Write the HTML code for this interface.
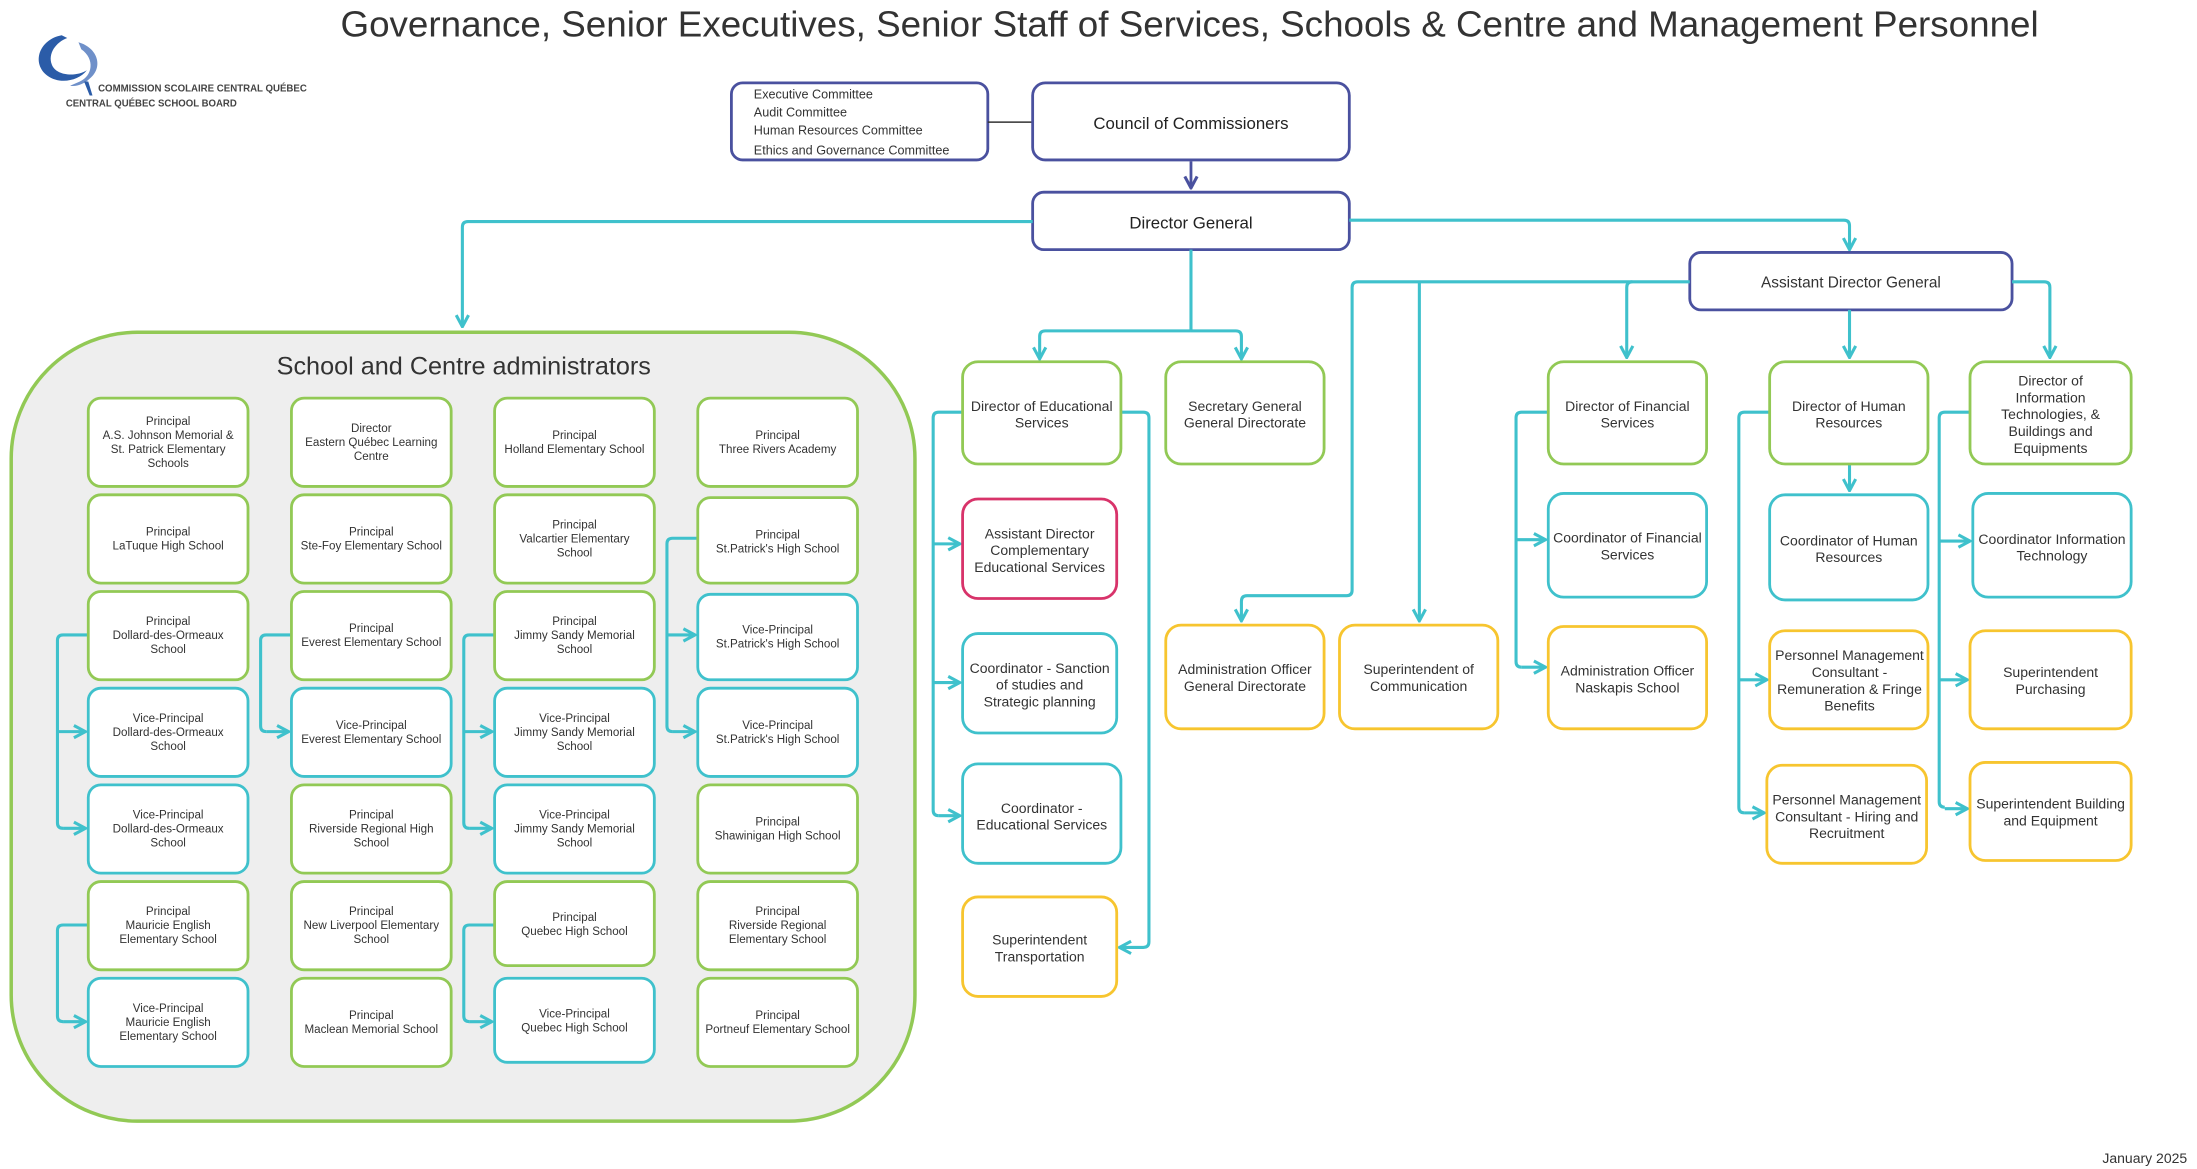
<!DOCTYPE html>
<html><head><meta charset="utf-8"><style>
html,body{margin:0;padding:0;background:#fff;}
svg{display:block;}
text{font-family:"Liberation Sans",sans-serif;fill:#333;}
.s{font-size:8.3px;text-anchor:middle;}
.m{font-size:10px;text-anchor:middle;}
.g{fill:#fff;stroke:#92c955;stroke-width:2;}
.c{fill:#fff;stroke:#3fc1cc;stroke-width:2;}
.y{fill:#fff;stroke:#f7c52f;stroke-width:2;}
.r{fill:#fff;stroke:#d8336a;stroke-width:2;}
.n{fill:#fff;stroke:#4a519f;stroke-width:2;}
.l{fill:none;stroke:#3fc1cc;stroke-width:2.2;stroke-linejoin:round;marker-end:url(#a);}
.l0{fill:none;stroke:#3fc1cc;stroke-width:2.2;stroke-linejoin:round;}
</style></head><body>
<svg width="2197" height="1169" viewBox="0 0 1568 834" xmlns="http://www.w3.org/2000/svg">
<defs>
<marker id="a" markerUnits="userSpaceOnUse" viewBox="0 0 10 10" refX="9" refY="5" markerWidth="11" markerHeight="11" orient="auto"><path d="M1.5,1 L9,5 L1.5,9" fill="none" stroke="#3fc1cc" stroke-width="2"/></marker>
<marker id="b" markerUnits="userSpaceOnUse" viewBox="0 0 10 10" refX="9" refY="5" markerWidth="11" markerHeight="11" orient="auto"><path d="M1.5,1 L9,5 L1.5,9" fill="none" stroke="#4a519f" stroke-width="2"/></marker>
</defs>

<!-- Title -->
<text x="243" y="26" style="font-size:26px;fill:#333" textLength="1212" lengthAdjust="spacingAndGlyphs">Governance, Senior Executives, Senior Staff of Services, Schools &amp; Centre and Management Personnel</text>
<!-- Logo -->
<path d="M44,25 C28,28 22,45 34,54 C42,60 56,58 62,50 C54,55 40,54 37,46 C34,38 40,30 48,27 Z" fill="#2b5ca8"/>
<path d="M56,30 C70,34 74,48 64,56 C60,60 54,62 50,61 L57,58 C66,54 68,42 58,35 Z" fill="#6f90c9"/>
<path d="M60,58 L64,68 L66,68 L63,58 Z" fill="#2b5ca8"/>
<text x="70" y="65" style="font-size:7px;font-weight:bold;fill:#444" textLength="149" lengthAdjust="spacingAndGlyphs">COMMISSION SCOLAIRE CENTRAL QUÉBEC</text>
<text x="47" y="76" style="font-size:7px;font-weight:bold;fill:#444" textLength="122" lengthAdjust="spacingAndGlyphs">CENTRAL QUÉBEC SCHOOL BOARD</text>

<!-- Top governance -->
<rect class="n" x="522" y="59" width="183" height="55" rx="8"/>
<text style="font-size:9px"><tspan x="538" y="70">Executive Committee</tspan><tspan x="538" y="83">Audit Committee</tspan><tspan x="538" y="96">Human Resources Committee</tspan><tspan x="538" y="110">Ethics and Governance Committee</tspan></text>
<line x1="705" y1="87" x2="737" y2="87" stroke="#333" stroke-width="1"/>
<rect class="n" x="737" y="59" width="226" height="55" rx="9"/>
<text class="m" x="850" y="92" style="font-size:12px;fill:#222">Council of Commissioners</text>
<path d="M850,115 V134" stroke="#4a519f" stroke-width="2" fill="none" marker-end="url(#b)"/>
<rect class="n" x="737" y="137" width="226" height="41" rx="8"/>
<text class="m" x="850" y="163" style="font-size:12px;fill:#222">Director General</text>

<!-- DG connectors -->
<path class="l" d="M737,158 H334 Q330,158 330,162 V233"/>
<path class="l" d="M963,157 H1316 Q1320,157 1320,161 V178"/>
<path class="l0" d="M850,178 V236"/>
<path class="l" d="M850,236 H746 Q742,236 742,240 V256"/>
<path class="l" d="M850,236 H882 Q886,236 886,240 V256"/>

<!-- Group box -->
<rect x="8" y="237" width="645" height="563" rx="90" fill="#eeeeee" stroke="#92c955" stroke-width="2.5"/>
<text x="331" y="267" style="font-size:18px;text-anchor:middle;fill:#333">School and Centre administrators</text>

<!-- School connectors -->
<path class="l0" d="M63,453 H45 Q41,453 41,457 V587 Q41,591 45,591"/>
<path class="l" d="M41,522 H61"/><path class="l" d="M45,591 H61"/>
<path class="l0" d="M63,660 H45 Q41,660 41,664 V725 Q41,729 45,729"/>
<path class="l" d="M45,729 H61"/>
<path class="l0" d="M208,453 H190 Q186,453 186,457 V518 Q186,522 190,522"/>
<path class="l" d="M190,522 H206"/>
<path class="l0" d="M353,453 H335 Q331,453 331,457 V587 Q331,591 335,591"/>
<path class="l" d="M331,522 H351"/><path class="l" d="M335,591 H351"/>
<path class="l0" d="M353,660 H335 Q331,660 331,664 V725 Q331,729 335,729"/>
<path class="l" d="M335,729 H351"/>
<path class="l0" d="M498,384 H480 Q476,384 476,388 V518 Q476,522 480,522"/>
<path class="l" d="M476,453 H496"/><path class="l" d="M480,522 H496"/>

<!-- Schools col1 -->
<rect class="g" x="63" y="284" width="114" height="63" rx="9"/>
<text class="s"><tspan x="120" y="303">Principal</tspan><tspan x="120" y="313">A.S. Johnson Memorial &amp;</tspan><tspan x="120" y="323">St. Patrick Elementary</tspan><tspan x="120" y="333">Schools</tspan></text>
<rect class="g" x="63" y="353" width="114" height="63" rx="9"/>
<text class="s"><tspan x="120" y="382">Principal</tspan><tspan x="120" y="392">LaTuque High School</tspan></text>
<rect class="g" x="63" y="422" width="114" height="63" rx="9"/>
<text class="s"><tspan x="120" y="446">Principal</tspan><tspan x="120" y="456">Dollard-des-Ormeaux</tspan><tspan x="120" y="466">School</tspan></text>
<rect class="c" x="63" y="491" width="114" height="63" rx="9"/>
<text class="s"><tspan x="120" y="515">Vice-Principal</tspan><tspan x="120" y="525">Dollard-des-Ormeaux</tspan><tspan x="120" y="535">School</tspan></text>
<rect class="c" x="63" y="560" width="114" height="63" rx="9"/>
<text class="s"><tspan x="120" y="584">Vice-Principal</tspan><tspan x="120" y="594">Dollard-des-Ormeaux</tspan><tspan x="120" y="604">School</tspan></text>
<rect class="g" x="63" y="629" width="114" height="63" rx="9"/>
<text class="s"><tspan x="120" y="653">Principal</tspan><tspan x="120" y="663">Mauricie English</tspan><tspan x="120" y="673">Elementary School</tspan></text>
<rect class="c" x="63" y="698" width="114" height="63" rx="9"/>
<text class="s"><tspan x="120" y="722">Vice-Principal</tspan><tspan x="120" y="732">Mauricie English</tspan><tspan x="120" y="742">Elementary School</tspan></text>

<!-- col2 -->
<rect class="g" x="208" y="284" width="114" height="63" rx="9"/>
<text class="s"><tspan x="265" y="308">Director</tspan><tspan x="265" y="318">Eastern Québec Learning</tspan><tspan x="265" y="328">Centre</tspan></text>
<rect class="g" x="208" y="353" width="114" height="63" rx="9"/>
<text class="s"><tspan x="265" y="382">Principal</tspan><tspan x="265" y="392">Ste-Foy Elementary School</tspan></text>
<rect class="g" x="208" y="422" width="114" height="63" rx="9"/>
<text class="s"><tspan x="265" y="451">Principal</tspan><tspan x="265" y="461">Everest Elementary School</tspan></text>
<rect class="c" x="208" y="491" width="114" height="63" rx="9"/>
<text class="s"><tspan x="265" y="520">Vice-Principal</tspan><tspan x="265" y="530">Everest Elementary School</tspan></text>
<rect class="g" x="208" y="560" width="114" height="63" rx="9"/>
<text class="s"><tspan x="265" y="584">Principal</tspan><tspan x="265" y="594">Riverside Regional High</tspan><tspan x="265" y="604">School</tspan></text>
<rect class="g" x="208" y="629" width="114" height="63" rx="9"/>
<text class="s"><tspan x="265" y="653">Principal</tspan><tspan x="265" y="663">New Liverpool Elementary</tspan><tspan x="265" y="673">School</tspan></text>
<rect class="g" x="208" y="698" width="114" height="63" rx="9"/>
<text class="s"><tspan x="265" y="727">Principal</tspan><tspan x="265" y="737">Maclean Memorial School</tspan></text>

<!-- col3 -->
<rect class="g" x="353" y="284" width="114" height="63" rx="9"/>
<text class="s"><tspan x="410" y="313">Principal</tspan><tspan x="410" y="323">Holland Elementary School</tspan></text>
<rect class="g" x="353" y="353" width="114" height="63" rx="9"/>
<text class="s"><tspan x="410" y="377">Principal</tspan><tspan x="410" y="387">Valcartier Elementary</tspan><tspan x="410" y="397">School</tspan></text>
<rect class="g" x="353" y="422" width="114" height="63" rx="9"/>
<text class="s"><tspan x="410" y="446">Principal</tspan><tspan x="410" y="456">Jimmy Sandy Memorial</tspan><tspan x="410" y="466">School</tspan></text>
<rect class="c" x="353" y="491" width="114" height="63" rx="9"/>
<text class="s"><tspan x="410" y="515">Vice-Principal</tspan><tspan x="410" y="525">Jimmy Sandy Memorial</tspan><tspan x="410" y="535">School</tspan></text>
<rect class="c" x="353" y="560" width="114" height="63" rx="9"/>
<text class="s"><tspan x="410" y="584">Vice-Principal</tspan><tspan x="410" y="594">Jimmy Sandy Memorial</tspan><tspan x="410" y="604">School</tspan></text>
<rect class="g" x="353" y="629" width="114" height="60" rx="9"/>
<text class="s"><tspan x="410" y="657">Principal</tspan><tspan x="410" y="667">Quebec High School</tspan></text>
<rect class="c" x="353" y="698" width="114" height="60" rx="9"/>
<text class="s"><tspan x="410" y="726">Vice-Principal</tspan><tspan x="410" y="736">Quebec High School</tspan></text>

<!-- col4 -->
<rect class="g" x="498" y="284" width="114" height="63" rx="9"/>
<text class="s"><tspan x="555" y="313">Principal</tspan><tspan x="555" y="323">Three Rivers Academy</tspan></text>
<rect class="g" x="498" y="355" width="114" height="61" rx="9"/>
<text class="s"><tspan x="555" y="384">Principal</tspan><tspan x="555" y="394">St.Patrick's High School</tspan></text>
<rect class="c" x="498" y="424" width="114" height="61" rx="9"/>
<text class="s"><tspan x="555" y="452">Vice-Principal</tspan><tspan x="555" y="462">St.Patrick's High School</tspan></text>
<rect class="c" x="498" y="491" width="114" height="63" rx="9"/>
<text class="s"><tspan x="555" y="520">Vice-Principal</tspan><tspan x="555" y="530">St.Patrick's High School</tspan></text>
<rect class="g" x="498" y="560" width="114" height="63" rx="9"/>
<text class="s"><tspan x="555" y="589">Principal</tspan><tspan x="555" y="599">Shawinigan High School</tspan></text>
<rect class="g" x="498" y="629" width="114" height="63" rx="9"/>
<text class="s"><tspan x="555" y="653">Principal</tspan><tspan x="555" y="663">Riverside Regional</tspan><tspan x="555" y="673">Elementary School</tspan></text>
<rect class="g" x="498" y="698" width="114" height="63" rx="9"/>
<text class="s"><tspan x="555" y="727">Principal</tspan><tspan x="555" y="737">Portneuf Elementary School</tspan></text>

<!-- Educational services -->
<path class="l0" d="M687,294 H670 Q666,294 666,298 V578 Q666,582 670,582"/>
<path class="l" d="M666,388 H685"/><path class="l" d="M666,487 H685"/><path class="l" d="M670,582 H685"/>
<path class="l" d="M800,294 H816 Q820,294 820,298 V672 Q820,676 816,676 H799"/>
<rect class="g" x="687" y="258" width="113" height="73" rx="11"/>
<text class="m"><tspan x="743.5" y="293">Director of Educational</tspan><tspan x="743.5" y="305">Services</tspan></text>
<rect class="g" x="832" y="258" width="113" height="73" rx="11"/>
<text class="m"><tspan x="888.5" y="293">Secretary General</tspan><tspan x="888.5" y="305">General Directorate</tspan></text>
<rect class="r" x="687" y="356" width="110" height="71" rx="11"/>
<text class="m"><tspan x="742" y="384">Assistant Director</tspan><tspan x="742" y="396">Complementary</tspan><tspan x="742" y="408">Educational Services</tspan></text>
<rect class="c" x="687" y="452" width="110" height="71" rx="11"/>
<text class="m"><tspan x="742" y="480">Coordinator - Sanction</tspan><tspan x="742" y="492">of studies and</tspan><tspan x="742" y="504">Strategic planning</tspan></text>
<rect class="c" x="687" y="545" width="113" height="71" rx="11"/>
<text class="m"><tspan x="743.5" y="580">Coordinator -</tspan><tspan x="743.5" y="592">Educational Services</tspan></text>
<rect class="y" x="687" y="640" width="110" height="71" rx="11"/>
<text class="m"><tspan x="742" y="674">Superintendent</tspan><tspan x="742" y="686">Transportation</tspan></text>

<!-- ADG -->
<rect class="n" x="1206" y="180" width="230" height="41" rx="8"/>
<text class="m" x="1321" y="205" style="font-size:11px">Assistant Director General</text>
<path class="l" d="M1206,201 H969 Q965,201 965,205 V421 Q965,425 961,425 H890 Q886,425 886,429 V443"/>
<path class="l" d="M1013,201 Q1013,205 1013,209 V443"/>
<path class="l" d="M1165,201 Q1161,201 1161,205 V255"/>
<path class="l" d="M1320,221 V255"/>
<path class="l" d="M1436,201 H1459 Q1463,201 1463,205 V255"/>
<rect class="y" x="832" y="446" width="113" height="74" rx="11"/>
<text class="m"><tspan x="888.5" y="481">Administration Officer</tspan><tspan x="888.5" y="493">General Directorate</tspan></text>
<rect class="y" x="956" y="446" width="113" height="74" rx="11"/>
<text class="m"><tspan x="1012.5" y="481">Superintendent of</tspan><tspan x="1012.5" y="493">Communication</tspan></text>

<!-- Finance -->
<path class="l0" d="M1105,294 H1086 Q1082,294 1082,298 V472 Q1082,476 1086,476"/>
<path class="l" d="M1082,385 H1103"/><path class="l" d="M1086,476 H1103"/>
<rect class="g" x="1105" y="258" width="113" height="73" rx="11"/>
<text class="m"><tspan x="1161.5" y="293">Director of Financial</tspan><tspan x="1161.5" y="305">Services</tspan></text>
<rect class="c" x="1105" y="352" width="113" height="74" rx="11"/>
<text class="m"><tspan x="1161.5" y="387">Coordinator of Financial</tspan><tspan x="1161.5" y="399">Services</tspan></text>
<rect class="y" x="1105" y="447" width="113" height="73" rx="11"/>
<text class="m"><tspan x="1161.5" y="482">Administration Officer</tspan><tspan x="1161.5" y="494">Naskapis School</tspan></text>

<!-- HR -->
<path class="l0" d="M1263,294 H1245 Q1241,294 1241,298 V576 Q1241,580 1245,580"/>
<path class="l" d="M1241,485 H1261"/><path class="l" d="M1245,580 H1259"/>
<path class="l" d="M1320,331 V350"/>
<rect class="g" x="1263" y="258" width="113" height="73" rx="11"/>
<text class="m"><tspan x="1319.5" y="293">Director of Human</tspan><tspan x="1319.5" y="305">Resources</tspan></text>
<rect class="c" x="1263" y="353" width="113" height="75" rx="11"/>
<text class="m"><tspan x="1319.5" y="389">Coordinator of Human</tspan><tspan x="1319.5" y="401">Resources</tspan></text>
<rect class="y" x="1263" y="450" width="113" height="70" rx="11"/>
<text class="m"><tspan x="1320" y="471">Personnel Management</tspan><tspan x="1320" y="483">Consultant -</tspan><tspan x="1320" y="495">Remuneration &amp; Fringe</tspan><tspan x="1320" y="507">Benefits</tspan></text>
<rect class="y" x="1261" y="546" width="114" height="70" rx="11"/>
<text class="m"><tspan x="1318" y="574">Personnel Management</tspan><tspan x="1318" y="586">Consultant - Hiring and</tspan><tspan x="1318" y="598">Recruitment</tspan></text>

<!-- IT -->
<path class="l0" d="M1406,294 H1388 Q1384,294 1384,298 V572 Q1384,576 1388,576"/>
<path class="l" d="M1384,386 H1406"/><path class="l" d="M1384,485 H1404"/><path class="l" d="M1388,577 H1404"/>
<rect class="g" x="1406" y="258" width="115" height="73" rx="11"/>
<text class="m"><tspan x="1463.5" y="275">Director of</tspan><tspan x="1463.5" y="287">Information</tspan><tspan x="1463.5" y="299">Technologies, &amp;</tspan><tspan x="1463.5" y="311">Buildings and</tspan><tspan x="1463.5" y="323">Equipments</tspan></text>
<rect class="c" x="1408" y="352" width="113" height="74" rx="11"/>
<text class="m"><tspan x="1464.5" y="388">Coordinator Information</tspan><tspan x="1464.5" y="400">Technology</tspan></text>
<rect class="y" x="1406" y="450" width="115" height="70" rx="11"/>
<text class="m"><tspan x="1463.5" y="483">Superintendent</tspan><tspan x="1463.5" y="495">Purchasing</tspan></text>
<rect class="y" x="1406" y="544" width="115" height="70" rx="11"/>
<text class="m"><tspan x="1463.5" y="577">Superintendent Building</tspan><tspan x="1463.5" y="589">and Equipment</tspan></text>

<text x="1561" y="830" style="font-size:10px;text-anchor:end;fill:#333">January 2025</text>
</svg>
</body></html>
